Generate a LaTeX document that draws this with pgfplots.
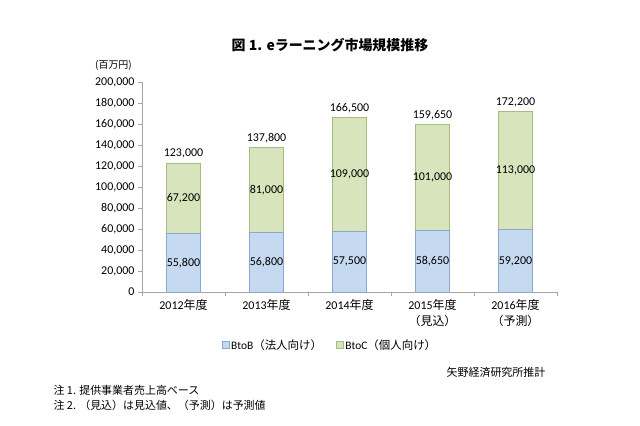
\documentclass[border=0pt]{standalone}
\usepackage{pgfplots}
\pgfplotsset{compat=1.18}
\usepackage{fontspec}
\setmainfont{Carlito}
\newfontfamily\jp{Noto Sans CJK JP}
\definecolor{bfill}{RGB}{197,217,241}
\definecolor{bedge}{RGB}{140,168,208}
\definecolor{gfill}{RGB}{216,228,188}
\definecolor{gedge}{RGB}{168,188,128}
\definecolor{axgray}{RGB}{165,165,165}
\begin{document}
\begin{tikzpicture}
\path[use as bounding box] (0,0) rectangle (640bp,426bp);
\node[font=\jp\bfseries\fontsize{14}{16}\selectfont] at (330bp,381bp) {図 1. eラーニング市場規模推移};
\node[font=\jp\fontsize{10}{12}\selectfont] at (113.5bp,361bp) {(百万円)};
\begin{axis}[
  at={(142bp,134bp)}, anchor=south west,
  scale only axis, width=415bp, height=210bp,
  xmin=-0.5, xmax=4.5, ymin=0, ymax=200000,
  axis lines*=left,
  axis line style={axgray, line width=0.8pt},
  /pgf/number format/.cd, fixed, precision=0, 1000 sep={,}, assume math mode=true,
  /pgfplots/.cd,
  xtick={0,1,2,3,4},
  xticklabels={{2012{\jp 年度}},{2013{\jp 年度}},{2014{\jp 年度}},{2015{\jp 年度}\\{\jp （見込）}},{2016{\jp 年度}\\{\jp （予測）}}},
  xticklabel style={align=center, font=\fontsize{12}{16}\selectfont, text=black},
  minor xtick={-0.5,0.5,1.5,2.5,3.5,4.5},
  major x tick style={draw=none},
  minor x tick style={axgray, line width=0.8pt},
  minor tick length=4bp,
  ytick={0,20000,...,200000},
  major tick length=4bp,
  tick align=outside,
  ytick style={axgray, line width=0.8pt},
  yticklabel style={font=\fontsize{12}{14}\selectfont, text=black},
  scaled y ticks=false,
  clip=false,
  legend style={draw=none, fill=none, at={(0.453,-0.252)}, anchor=center,
    font=\fontsize{11.5}{13}\selectfont, text=black,
    /tikz/every even column/.append style={column sep=12bp}},
  legend columns=2,
  legend image code/.code={\draw[#1] (0bp,-3.5bp) rectangle (7bp,3.5bp);},
]
\addlegendimage{fill=bfill, draw=bedge}
\addlegendentry{BtoB{\jp （法人向け）}}
\addlegendimage{fill=gfill, draw=gedge}
\addlegendentry{BtoC{\jp （個人向け）}}
% totals (BtoB + BtoC)
\addplot[ybar, bar shift=0pt, bar width=34bp, fill=gfill, draw=gedge, line width=0.7pt, forget plot,
  nodes near coords, nodes near coords style={font=\fontsize{12}{14}\selectfont, text=black, inner sep=4bp}]
  coordinates {(0,123000) (1,137800) (2,166500) (3,159650) (4,172200)};
% BtoB
\addplot[ybar, bar shift=0pt, bar width=34bp, fill=bfill, draw=bedge, line width=0.7pt, forget plot]
  coordinates {(0,55800) (1,56800) (2,57500) (3,58650) (4,59200)};
% segment labels
\addplot[only marks, mark=none, forget plot, point meta=explicit,
  nodes near coords, nodes near coords style={anchor=center, font=\fontsize{12}{14}\selectfont, text=black}]
  table[x=x, y=y, meta=m] {
x y m
0 27900 55800
1 28400 56800
2 28750 57500
3 29325 58650
4 29600 59200
0 89400 67200
1 97300 81000
2 112000 109000
3 109150 101000
4 115700 113000
};
\end{axis}
\node[font=\jp\fontsize{11}{13}\selectfont, text=black] at (496bp,54bp) {矢野経済研究所推計};
\node[font=\jp\fontsize{11}{13}\selectfont, text=black, anchor=west] at (50bp,36bp) {注 1. 提供事業者売上高ベース};
\node[font=\jp\fontsize{11}{13}\selectfont, text=black, anchor=west] at (50bp,21bp) {注 2. （見込）は見込値、（予測）は予測値};
\end{tikzpicture}
\end{document}
